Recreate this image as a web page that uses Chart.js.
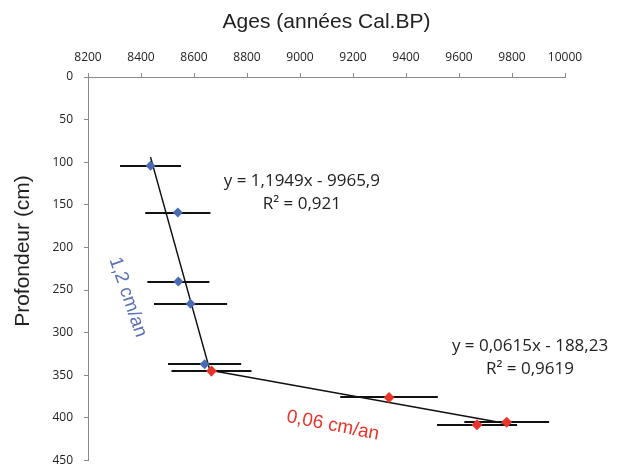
<!DOCTYPE html>
<html><head><meta charset="utf-8">
<script src="https://cdn.jsdelivr.net/npm/chart.js@4"></script>
<style>html,body{margin:0;padding:0;background:#fff;} canvas{display:block;}</style>
</head><body>
<canvas id="c" width="617" height="466"></canvas>
<script>
// ---- data ----
const ageTicks = [8200, 8400, 8600, 8800, 9000, 9200, 9400, 9600, 9800, 10000];
const depthTicks = [0, 50, 100, 150, 200, 250, 300, 350, 400, 450];

const blueAges   = [8436, 8539, 8541, 8587, 8640];
const blueDepths = [104, 159, 240, 266, 337];
const blueErrors = [115, 123, 117, 138, 138];

const redAges    = [8666, 9336, 9668, 9780];
const redDepths  = [345, 376, 408, 405];
const redErrors  = [151, 184, 151, 160];

const blueTrendAges   = [8436, 8666];
const blueTrendDepths = [94, 351];
const redTrendAges    = [8660, 9767];
const redTrendDepths  = [344, 406];

const blueEquation = ['y = 1,1949x - 9965,9', 'R\u00B2 = 0,921'];
const redEquation  = ['y = 0,0615x - 188,23', 'R\u00B2 = 0,9619'];
const blueRate = '1,2 cm/an';
const redRate  = '0,06 cm/an';
const xTitle = 'Ages (années Cal.BP)';
const yTitle = 'Profondeur (cm)';

// ---- build ----
const pts = (xs, ys) => xs.map((v, i) => ({x: v, y: ys[i]}));
const BLUE = '#4a6bb0', RED = '#e8352b';

const errorBars = {
  id: 'errorBars',
  beforeDatasetsDraw(chart) {
    const {ctx, scales: {x, y}} = chart;
    ctx.save();
    ctx.strokeStyle = '#111';
    ctx.lineWidth = 2;
    chart.data.datasets.forEach(ds => {
      if (!ds.errors) return;
      ds.data.forEach((p, i) => {
        const yy = Math.round(y.getPixelForValue(p.y));
        ctx.beginPath();
        ctx.moveTo(x.getPixelForValue(p.x - ds.errors[i]), yy);
        ctx.lineTo(x.getPixelForValue(p.x + ds.errors[i]), yy);
        ctx.stroke();
      });
    });
    ctx.restore();
  }
};

const labels = {
  id: 'labels',
  afterDraw(chart) {
    const {ctx, scales: {x, y}} = chart;
    ctx.save();
    ctx.textAlign = 'center';
    ctx.textBaseline = 'middle';
    // equations
    ctx.fillStyle = '#222';
    ctx.font = '17px "Open Sans"';
    const e1x = x.getPixelForValue(9007), e1y = y.getPixelForValue(121.8);
    ctx.fillText(blueEquation[0], e1x, e1y);
    ctx.fillText(blueEquation[1], e1x, e1y + 23);
    const e2x = x.getPixelForValue(9868), e2y = y.getPixelForValue(316.4);
    ctx.fillText(redEquation[0], e2x, e2y);
    ctx.fillText(redEquation[1], e2x, e2y + 23);
    // rates
    ctx.font = '19px "Liberation Sans"';
    ctx.fillStyle = '#5a70b8';
    ctx.save();
    ctx.translate(x.getPixelForValue(8350), y.getPixelForValue(258.3));
    ctx.rotate(71 * Math.PI / 180);
    ctx.fillText(blueRate, 0, 0);
    ctx.restore();
    ctx.fillStyle = RED;
    ctx.save();
    ctx.translate(x.getPixelForValue(9124), y.getPixelForValue(409));
    ctx.rotate(11 * Math.PI / 180);
    ctx.fillText(redRate, 0, 0);
    ctx.restore();
    // y title
    ctx.fillStyle = '#222';
    ctx.font = '21px "Liberation Sans"';
    ctx.save();
    ctx.translate(23, 251);
    ctx.rotate(-Math.PI / 2);
    ctx.fillText(yTitle, 0, 0);
    ctx.restore();
    ctx.restore();
  }
};

new Chart(document.getElementById('c'), {
  type: 'scatter',
  data: {
    datasets: [
      {data: pts(blueAges, blueDepths), errors: blueErrors, backgroundColor: BLUE, borderColor: BLUE,
       pointStyle: 'rectRot', pointRadius: 5, borderWidth: 0, pointBorderWidth: 0},
      {data: pts(redAges, redDepths), errors: redErrors, backgroundColor: RED, borderColor: RED,
       pointStyle: 'rectRot', pointRadius: 5.5, borderWidth: 0, pointBorderWidth: 0},
      {type: 'line', data: pts(blueTrendAges, blueTrendDepths), borderColor: '#111', borderWidth: 1.5,
       pointRadius: 0, fill: false, tension: 0},
      {type: 'line', data: pts(redTrendAges, redTrendDepths), borderColor: '#111', borderWidth: 1.5,
       pointRadius: 0, fill: false, tension: 0}
    ]
  },
  options: {
    responsive: false,
    animation: false,
    devicePixelRatio: 1,
    layout: {padding: {left: 0, right: 52, top: 0, bottom: 4}},
    plugins: {legend: {display: false}, tooltip: {enabled: false}},
    scales: {
      x: {
        type: 'linear', position: 'top',
        min: ageTicks[0], max: ageTicks[ageTicks.length - 1],
        afterBuildTicks: s => { s.ticks = ageTicks.map(v => ({value: v})); },
        afterFit: s => { s.height = 77; },
        grid: {display: true, drawOnChartArea: false, drawTicks: true, tickLength: 4, color: '#8a8a8a'},
        border: {display: true, color: '#8a8a8a', width: 1},
        ticks: {padding: 8, color: '#222', font: {family: 'Open Sans', size: 12}, maxRotation: 0, autoSkip: false,
                callback: v => String(v)},
        title: {display: true, text: xTitle, color: '#222', font: {family: 'Liberation Sans', size: 21},
                padding: {top: 10, bottom: 0}}
      },
      y: {
        type: 'linear', reverse: true,
        min: depthTicks[0], max: depthTicks[depthTicks.length - 1],
        afterBuildTicks: s => { s.ticks = depthTicks.map(v => ({value: v})); },
        afterFit: s => { s.width = 88; s.paddingTop = 0; s.paddingBottom = 0; },
        grid: {display: true, drawOnChartArea: false, drawTicks: true, tickLength: 4, color: '#8a8a8a'},
        border: {display: true, color: '#8a8a8a', width: 1},
        ticks: {padding: 11, color: '#222', font: {family: 'Open Sans', size: 12}, autoSkip: false,
                callback: v => String(v)},
        title: {display: false}
      }
    }
  },
  plugins: [errorBars, labels]
});
</script>
</body></html>
